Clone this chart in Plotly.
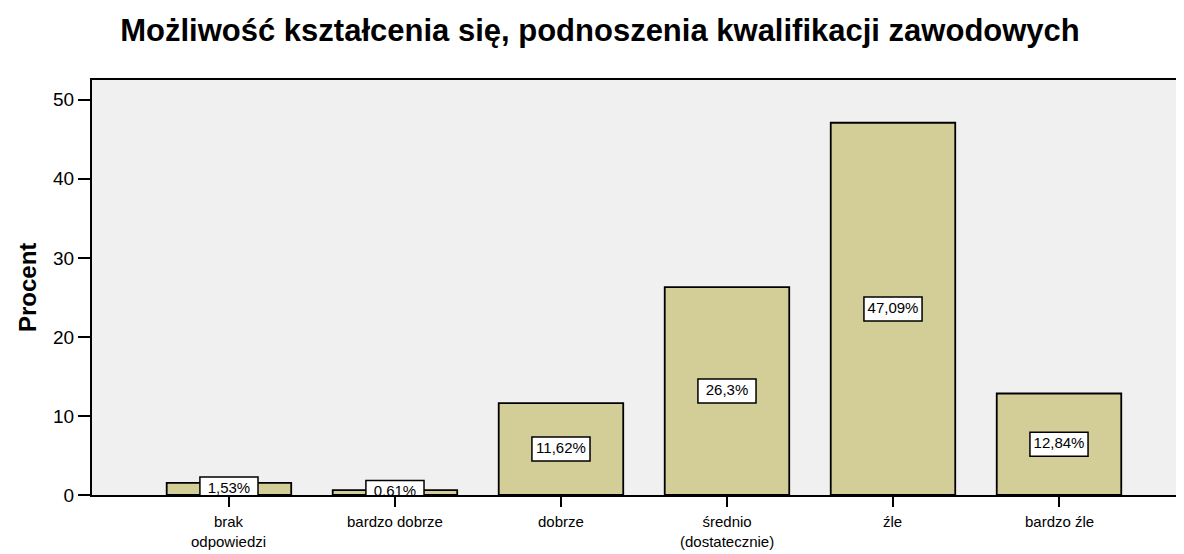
import plotly.graph_objects as go

categories = ["brak<br>odpowiedzi", "bardzo dobrze", "dobrze", "średnio<br>(dostatecznie)", "źle", "bardzo źle"]
values = [1.53, 0.61, 11.62, 26.3, 47.09, 12.84]
labels = ["1,53%", "0,61%", "11,62%", "26,3%", "47,09%", "12,84%"]
y_ticks = [0, 10, 20, 30, 40, 50]

FONT = "Liberation Sans, Arial, sans-serif"
ppu = 7.9  # pixels per y unit (approx)
box_h = 24 / ppu

# page has an 8px body margin; figure occupies page x 8..1184, y 8..554
W, H = 1176, 546

x_idx = list(range(len(categories)))

fig = go.Figure()
fig.add_trace(go.Bar(
    x=x_idx, y=values, width=0.75,
    marker=dict(color="#d3ce98", line=dict(color="black", width=1.8)),
    hoverinfo="skip", showlegend=False,
))
# label boxes
fig.add_trace(go.Bar(
    x=x_idx, y=[box_h] * len(values), base=[v / 2 - box_h / 2 for v in values],
    width=0.35,
    marker=dict(color="white", line=dict(color="black", width=1.5)),
    hoverinfo="skip", showlegend=False,
))
fig.add_trace(go.Scatter(
    x=x_idx, y=[v / 2 for v in values], mode="text", text=labels,
    textfont=dict(family=FONT, size=15, color="black"),
    textposition="middle center", cliponaxis=True,
    hoverinfo="skip", showlegend=False,
))

annotations = []
for i, cat in enumerate(categories):
    annotations.append(dict(
        x=i, xref="x", y=0, yref="paper", yanchor="top", xanchor="center",
        yshift=-16, text=cat, showarrow=False,
        font=dict(family=FONT, size=15, color="black"),
    ))
annotations.append(dict(
    x=0, xref="paper", y=1 - (288 - 80) / 415, yref="paper", xshift=-65, textangle=-90,
    xanchor="center", yanchor="middle", text="<b>Procent</b>", showarrow=False,
    font=dict(family=FONT, size=24, color="black"),
))

fig.update_layout(
    width=W, height=H,
    barmode="overlay",
    paper_bgcolor="white", plot_bgcolor="#f0f0f0",
    margin=dict(l=84, r=0, t=72, b=59),
    title=dict(text="<b>Możliwość kształcenia się, podnoszenia kwalifikacji zawodowych</b>",
               x=592 / W, xref="container", xanchor="center",
               y=1 - 22 / H, yref="container", yanchor="middle",
               font=dict(family=FONT, size=31, color="black")),
    font=dict(family=FONT, color="black"),
    annotations=annotations,
)
fig.update_xaxes(
    range=[-0.825, 5.753], tickmode="array", tickvals=x_idx, showticklabels=False,
    showline=True, linecolor="black", linewidth=2, mirror=True,
    ticks="outside", ticklen=10, tickwidth=2, tickcolor="black",
    showgrid=False, zeroline=False, automargin=False,
)
fig.update_yaxes(
    range=[0, 52.5], tickvals=y_ticks,
    showline=True, linecolor="black", linewidth=2,
    ticks="outside", ticklen=12, tickwidth=2, tickcolor="black",
    tickfont=dict(family=FONT, size=19, color="black"),
    showgrid=False, zeroline=False, automargin=False,
)

fig.write_html("out.html")
